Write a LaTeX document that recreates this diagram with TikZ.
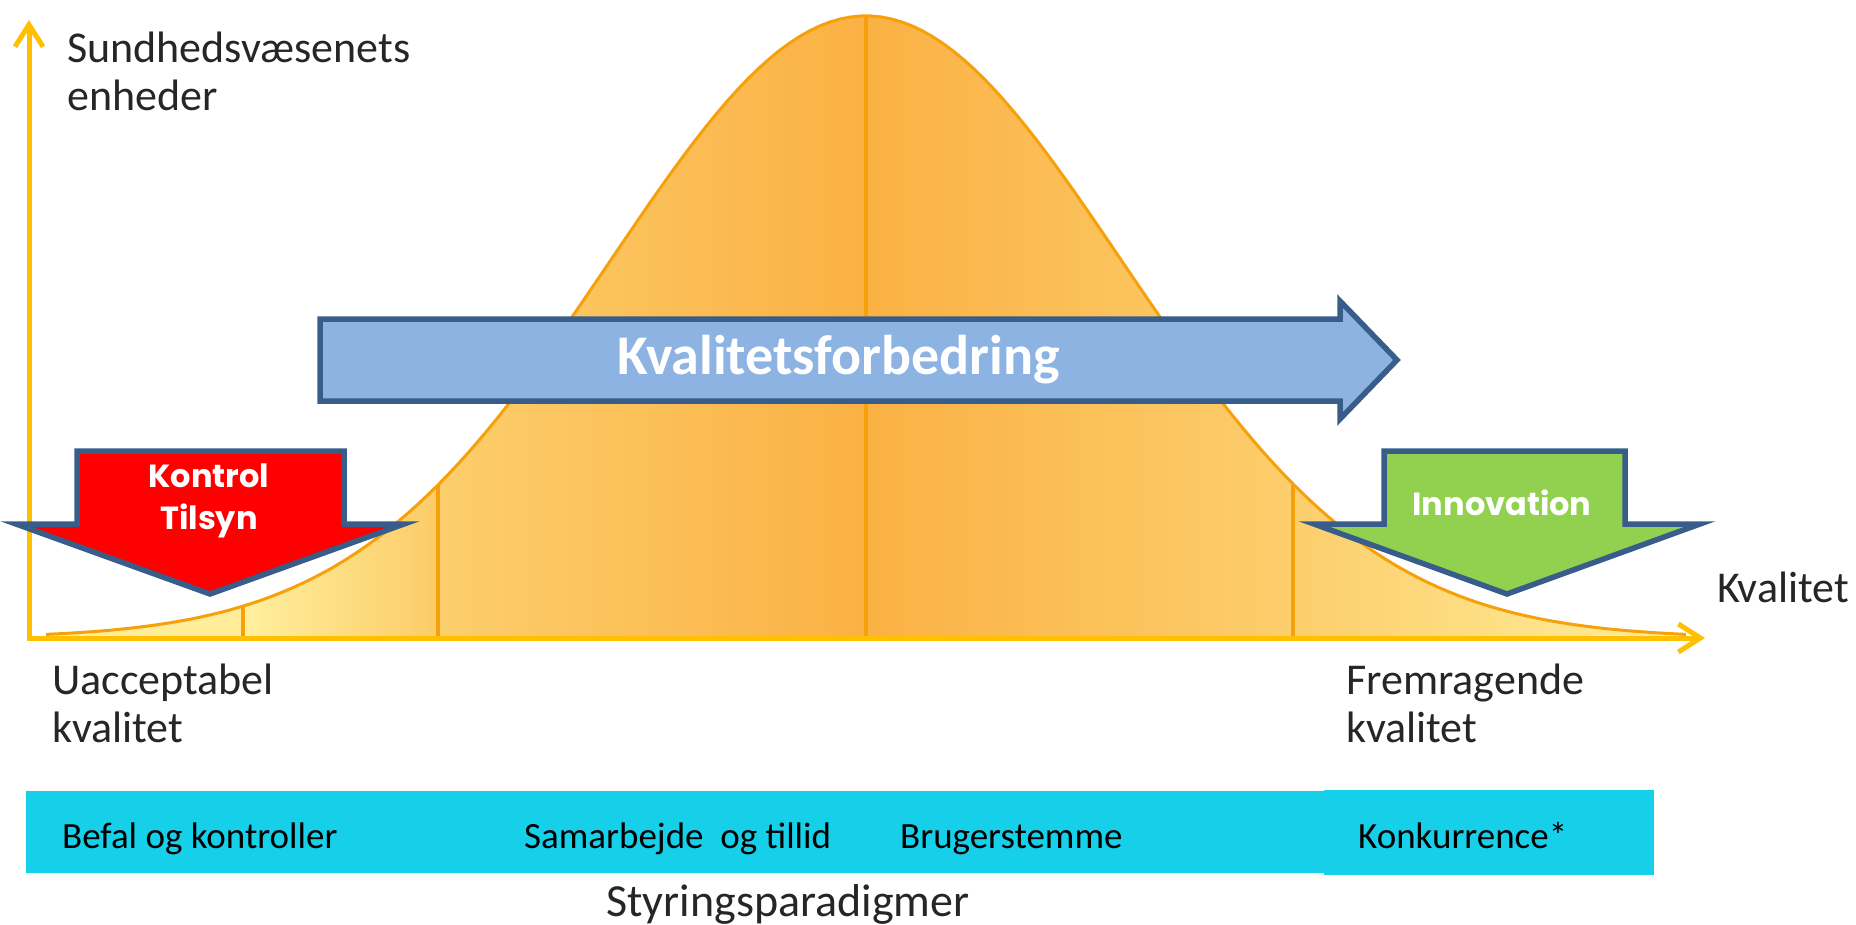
\documentclass[tikz,border=0pt]{standalone}
\usepackage{fontspec}
\setmainfont{Carlito}
\newfontfamily\geofont{Poppins}
\usepackage{xcolor}
\usepackage{tikz}
\usetikzlibrary{arrows.meta,positioning}

\definecolor{axisyellow}{RGB}{255,192,0}
\definecolor{bellline}{RGB}{246,160,12}
\definecolor{bellcore}{RGB}{251,177,68}
\definecolor{bellmid}{RGB}{252,206,108}
\definecolor{belltail}{RGB}{255,240,158}
\definecolor{arrowedge}{RGB}{56,93,138}
\definecolor{improveblue}{RGB}{141,179,226}
\definecolor{controlred}{RGB}{255,0,0}
\definecolor{innogreen}{RGB}{146,208,80}
\definecolor{barcyan}{RGB}{22,208,234}
\definecolor{labelgray}{RGB}{38,38,38}

\begin{document}
\begin{tikzpicture}[
	%	style def
    x=1pt, y=-1pt,
    axis line/.style={line width=5pt, axisyellow, -{Straight Barb[length=22pt,width=28pt]}},
    bell line/.style={line width=3pt, bellline},
    big arrow/.style={line width=5.5pt, arrowedge, line join=miter},
    label text/.style={inner sep=0pt, labelgray, font=\fontsize{44}{48}\selectfont, anchor=base west},
    arrow text/.style={inner sep=0pt, white, font=\geofont\bfseries\fontsize{32}{42}\selectfont, align=center},
    bar text/.style={inner sep=0pt, black, font=\fontsize{37}{44}\selectfont, anchor=base west},
    every node/.style={color=black}
    ]
    \useasboundingbox (0,0) rectangle (1856,924);

	% shaded bands under the curve (one unit = one pixel)
	\begin{scope}
	  \clip (46,638) -- plot[domain=-8.2:8.2, samples=160] ({866+100*\x}, {638-622*exp(-\x*\x/13.066)}) -- (1686,638) -- cycle;
	  \fill[belltail!92!bellmid] (30,0) rectangle (243,640);
	  \shade[left color=belltail, right color=bellmid!90!bellcore] (243,0) rectangle (438,640);
	  \shade[left color=bellmid, right color=bellcore] (438,0) rectangle (866,640);
	  \shade[left color=bellcore, right color=bellmid] (866,0) rectangle (1293,640);
	  \shade[left color=bellmid, right color=belltail] (1293,0) rectangle (1700,640);
	\end{scope}
	\draw[bell line] plot[domain=-8.2:8.2, samples=160] ({866+100*\x}, {638-622*exp(-\x*\x/13.066)});

	% band borders
	\draw[bell line, line width=3.5pt] (243,638) coordinate (b1) -- (243,606);
	\draw[bell line, line width=3.5pt] (438,638) coordinate (b2) -- (438,485);
	\draw[bell line, line width=4.5pt] (866,638) coordinate (b3) -- (866,16) coordinate (top);
	\draw[bell line, line width=3.5pt] (1293,638) coordinate (b4) -- (1293,485);

	% axes
	\coordinate (origin) at (29,638);
	\draw[axis line] (29,640) -- (29,20) coordinate (ytip);
	\draw[axis line] (27,638) -- (1705,638) coordinate (xtip);

	\node[label text] (yname) at (67,62) {Sundhedsv\ae senets};
	\node[label text] (yname2) at (67,110) {enheder};
	\node[label text] (xname) at (1717,602) {Kvalitet};
	\node[label text] (lowq) at (52,694) {Uacceptabel};
	\node[label text] (lowq2) at (52,742) {kvalitet};
	\node[label text] (highq) at (1346,694) {Fremragende};
	\node[label text] (highq2) at (1346,742) {kvalitet};

	% improvement arrow
	\draw[big arrow, fill=improveblue] (320,319) -- (1340,319) -- (1340,301) -- (1397,360)
	    -- (1340,419) -- (1340,401) -- (320,401) -- cycle;
	\node[inner sep=0pt, white, font=\bfseries\fontsize{56}{60}\selectfont] (improve) at (839,360) {Kvalitetsforbedring};

	% control arrow
	\draw[big arrow, fill=controlred] (77,451) -- (344,451) -- (344,524) -- (404,524) -- (210,594)
	    -- (16,524) -- (77,524) -- cycle;
	\node[arrow text] (control) at (209,501) {Kontrol\\Tilsyn};

	% innovation arrow
	\draw[big arrow, fill=innogreen] (1384,451) -- (1625,451) -- (1625,524) -- (1700,524) -- (1507,594)
	    -- (1314,524) -- (1384,524) -- cycle;
	\node[arrow text] (innov) at (1502,503) {Innovation};

	% steering paradigms bar
	\fill[barcyan] (26,791) rectangle (1324,873);
	\fill[barcyan] (1324,790) rectangle (1654,875);
	\node[bar text] (command) at (62,848) {Befal og kontroller};
	\node[bar text] (trust) at (524,848) {Samarbejde\ \ og tillid};
	\node[bar text] (voice) at (900,848) {Brugerstemme};
	\node[bar text] (compete) at (1358,848) {Konkurrence*};
	\node[inner sep=0pt, labelgray, font=\fontsize{46}{50}\selectfont, anchor=base] (paradigm) at (788,916) {Styringsparadigmer};
\end{tikzpicture}
\end{document}
